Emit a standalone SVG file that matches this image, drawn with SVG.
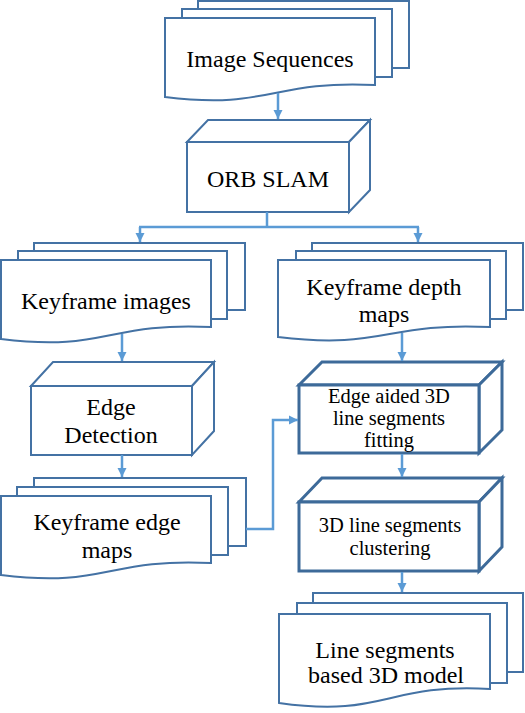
<svg xmlns="http://www.w3.org/2000/svg" width="525" height="713" viewBox="0 0 525 713" font-family="Liberation Serif, Times New Roman, serif">
<style>
.sh{fill:#fff;stroke:#4472a4;stroke-width:2;stroke-linejoin:miter}
.bx{fill:#fff;stroke:#4472a4;stroke-width:2;stroke-linejoin:miter}
.bb{fill:#fff;stroke:#3d6a99;stroke-width:3;stroke-linejoin:miter}
.t{font-size:24px;fill:#000;text-anchor:middle}
.ts{font-size:20.5px;fill:#000;text-anchor:middle}
.c{fill:none;stroke:#5b9bd5;stroke-width:2.5}
</style>
<defs>
<marker id="ah" markerUnits="userSpaceOnUse" markerWidth="10" markerHeight="10" viewBox="0 0 10 10" refX="9" refY="5" orient="auto">
<path d="M0,0.5 L9,5 L0,9.5 Z" fill="#5b9bd5"/>
</marker>
</defs>
<rect width="525" height="713" fill="#fff"/>

<g id="image-sequences">
<rect class="sh" x="198" y="1" width="211" height="67"/>
<rect class="sh" x="182" y="9" width="210" height="68"/>
<path class="sh" d="M165,18 H375 V85 C270,80 270,110 165,97 Z"/>
<text class="t" x="270" y="67">Image Sequences</text>
</g>

<g id="orb-slam">
<path class="bx" d="M187,142 L208,120 H370 L349,142 Z"/>
<path class="bx" d="M349,142 L370,120 V190 L349,212 Z"/>
<rect class="bx" x="187" y="142" width="162" height="70"/>
<text class="t" x="268" y="187">ORB SLAM</text>
</g>

<g id="keyframe-images">
<rect class="sh" x="34" y="243" width="211" height="67"/>
<rect class="sh" x="18" y="251" width="209" height="68"/>
<path class="sh" d="M1,260 H211 V327 C106,322 106,352 1,339 Z"/>
<text class="t" x="106" y="309">Keyframe images</text>
</g>

<g id="keyframe-depth-maps">
<rect class="sh" x="312" y="243" width="211" height="67"/>
<rect class="sh" x="296" y="251" width="210" height="68"/>
<path class="sh" d="M278,260 H490 V327 C384,322 384,350 278,337 Z"/>
<text class="t" x="384" y="295">Keyframe depth</text>
<text class="t" x="384" y="322">maps</text>
</g>

<g id="edge-detection">
<path class="bx" d="M31,386 L53,362 H214 L192,386 Z"/>
<path class="bx" d="M192,386 L214,362 V431 L192,455 Z"/>
<rect class="bx" x="31" y="386" width="161" height="69"/>
<text class="t" x="111" y="415">Edge</text>
<text class="t" x="111" y="443">Detection</text>
</g>

<g id="keyframe-edge-maps">
<rect class="sh" x="34" y="478" width="212" height="68"/>
<rect class="sh" x="17" y="487" width="211" height="68"/>
<path class="sh" d="M1,496 H211 V563 C106,558 106,588 1,575 Z"/>
<text class="t" x="107" y="530">Keyframe edge</text>
<text class="t" x="107" y="558">maps</text>
</g>

<g id="edge-aided-fitting">
<path class="bb" d="M299,385 L322,362 H502 L479,385 Z"/>
<path class="bb" d="M479,385 L502,362 V430 L479,453 Z"/>
<rect class="bb" x="299" y="385" width="180" height="68"/>
<text class="ts" x="389" y="403">Edge aided 3D</text>
<text class="ts" x="389" y="425">line segments</text>
<text class="ts" x="389" y="447">fitting</text>
</g>

<g id="line-segments-clustering">
<path class="bb" d="M299,502 L322,478 H502 L479,502 Z"/>
<path class="bb" d="M479,502 L502,478 V547 L479,571 Z"/>
<rect class="bb" x="299" y="502" width="180" height="69"/>
<text class="ts" x="390" y="532">3D line segments</text>
<text class="ts" x="390" y="555">clustering</text>
</g>

<g id="line-segments-model">
<rect class="sh" x="313" y="593" width="210" height="79"/>
<rect class="sh" x="297" y="603" width="210" height="80"/>
<path class="sh" d="M279,614 H490 V689 C385,683 385,718 279,703 Z"/>
<text class="t" x="385" y="658">Line segments</text>
<text class="t" x="386" y="683">based 3D model</text>
</g>

<g id="connectors">
<path class="c" d="M278,93 V119" marker-end="url(#ah)"/>
<path class="c" d="M267,212 V227 M139,227 H419"/>
<path class="c" d="M140,227 V242" marker-end="url(#ah)"/>
<path class="c" d="M418,227 V242" marker-end="url(#ah)"/>
<path class="c" d="M122,334 V361" marker-end="url(#ah)"/>
<path class="c" d="M122,455 V477" marker-end="url(#ah)"/>
<path class="c" d="M402,333 V361" marker-end="url(#ah)"/>
<path class="c" d="M246,529 H273 V420 H298" marker-end="url(#ah)"/>
<path class="c" d="M402,454 V477" marker-end="url(#ah)"/>
<path class="c" d="M402,572 V592" marker-end="url(#ah)"/>
</g>
</svg>
